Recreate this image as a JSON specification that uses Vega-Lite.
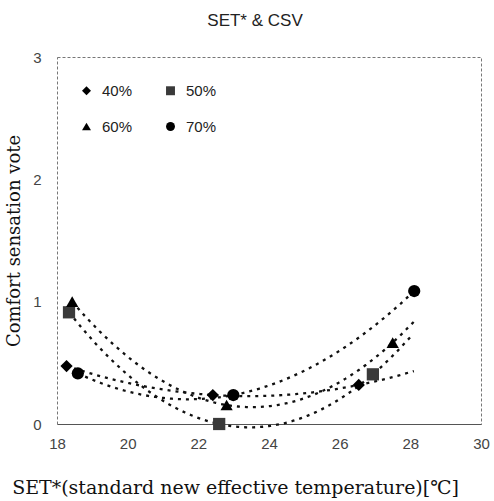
{
  "$schema": "https://vega.github.io/schema/vega-lite/v6.json",
  "width": 424,
  "height": 367,
  "autosize": "none",
  "padding": {"left": 57, "top": 57, "right": 13, "bottom": 77},
  "background": "white",
  "title": {
    "text": "SET* & CSV",
    "font": "Liberation Sans",
    "fontSize": 17,
    "fontWeight": "normal",
    "color": "#222",
    "anchor": "middle",
    "dx": -14,
    "offset": 20
  },
  "config": {
    "view": {"stroke": "#777", "strokeWidth": 1, "strokeDash": [3, 2]},
    "axis": {
      "grid": false,
      "ticks": false,
      "domain": false,
      "labelFlush": false,
      "labelFont": "Liberation Sans",
      "labelFontSize": 15,
      "labelColor": "#444",
      "titleFont": "DejaVu Serif",
      "titleFontWeight": "normal",
      "titleColor": "#111"
    }
  },
  "data": {
    "values": [
      {"rh": "40%", "set": 18.27, "csv": 0.474},
      {"rh": "40%", "set": 22.41, "csv": 0.237},
      {"rh": "40%", "set": 26.54, "csv": 0.319},
      {"rh": "50%", "set": 18.34, "csv": 0.913},
      {"rh": "50%", "set": 22.59, "csv": 0.0},
      {"rh": "50%", "set": 26.94, "csv": 0.406},
      {"rh": "60%", "set": 18.43, "csv": 1.0},
      {"rh": "60%", "set": 22.8, "csv": 0.155},
      {"rh": "60%", "set": 27.5, "csv": 0.665},
      {"rh": "70%", "set": 18.59, "csv": 0.414},
      {"rh": "70%", "set": 22.99, "csv": 0.237},
      {"rh": "70%", "set": 28.11, "csv": 1.087}
    ]
  },
  "encoding": {
    "x": {
      "field": "set",
      "type": "quantitative",
      "scale": {"domain": [18, 30], "nice": false, "zero": false},
      "axis": {
        "values": [18, 20, 22, 24, 26, 28, 30],
        "domain": true,
        "domainColor": "#555",
        "domainWidth": 1.2,
        "labelPadding": 12,
        "title": "SET*(standard new effective temperature)[℃]",
        "titleFontSize": 19,
        "titleX": 178,
        "titleAnchor": "middle",
        "titlePadding": 27
      }
    },
    "y": {
      "field": "csv",
      "type": "quantitative",
      "scale": {"domain": [0, 3], "nice": false},
      "axis": {
        "values": [0, 1, 2, 3],
        "labelPadding": 16,
        "title": "Comfort sensation vote",
        "titleFontSize": 18,
        "titlePadding": 9
      }
    }
  },
  "layer": [
    {
      "transform": [
        {"filter": "datum.rh === '40%'"},
        {"regression": "csv", "on": "set", "method": "poly", "order": 2, "extent": [18.27, 28.1]}
      ],
      "mark": {"type": "line", "color": "#111", "strokeWidth": 2.3, "strokeDash": [3, 5]}
    },
    {
      "transform": [
        {"filter": "datum.rh === '50%'"},
        {"regression": "csv", "on": "set", "method": "poly", "order": 2, "extent": [18.34, 28.0]}
      ],
      "mark": {"type": "line", "color": "#111", "strokeWidth": 2.3, "strokeDash": [3, 5]}
    },
    {
      "transform": [
        {"filter": "datum.rh === '60%'"},
        {"regression": "csv", "on": "set", "method": "poly", "order": 2, "extent": [18.43, 28.1]}
      ],
      "mark": {"type": "line", "color": "#111", "strokeWidth": 2.3, "strokeDash": [3, 5]}
    },
    {
      "transform": [
        {"filter": "datum.rh === '70%'"},
        {"regression": "csv", "on": "set", "method": "poly", "order": 2, "extent": [18.59, 28.11]}
      ],
      "mark": {"type": "line", "color": "#111", "strokeWidth": 2.3, "strokeDash": [3, 5]}
    },
    {
      "mark": {"type": "point", "filled": true, "opacity": 1, "size": 150},
      "encoding": {
        "shape": {
          "field": "rh",
          "type": "nominal",
          "scale": {"domain": ["40%", "50%", "60%", "70%"], "range": ["diamond", "square", "triangle-up", "circle"]},
          "legend": {
            "title": null,
            "orient": "none",
            "direction": "horizontal",
            "legendX": 22,
            "legendY": 26,
            "columns": 2,
            "columnPadding": 30,
            "rowPadding": 20,
            "padding": 0,
            "symbolSize": 80,
            "symbolStrokeWidth": 0,
            "labelFont": "Liberation Sans",
            "labelFontSize": 15,
            "labelColor": "#222",
            "labelOffset": 8
          }
        },
        "color": {
          "field": "rh",
          "type": "nominal",
          "scale": {"domain": ["40%", "50%", "60%", "70%"], "range": ["#000000", "#3a3a3a", "#000000", "#000000"]},
          "legend": {
            "title": null,
            "orient": "none",
            "direction": "horizontal",
            "legendX": 22,
            "legendY": 26,
            "columns": 2,
            "columnPadding": 30,
            "rowPadding": 20,
            "padding": 0,
            "symbolSize": 80,
            "symbolStrokeWidth": 0,
            "labelFont": "Liberation Sans",
            "labelFontSize": 15,
            "labelColor": "#222",
            "labelOffset": 8
          }
        }
      }
    }
  ]
}
